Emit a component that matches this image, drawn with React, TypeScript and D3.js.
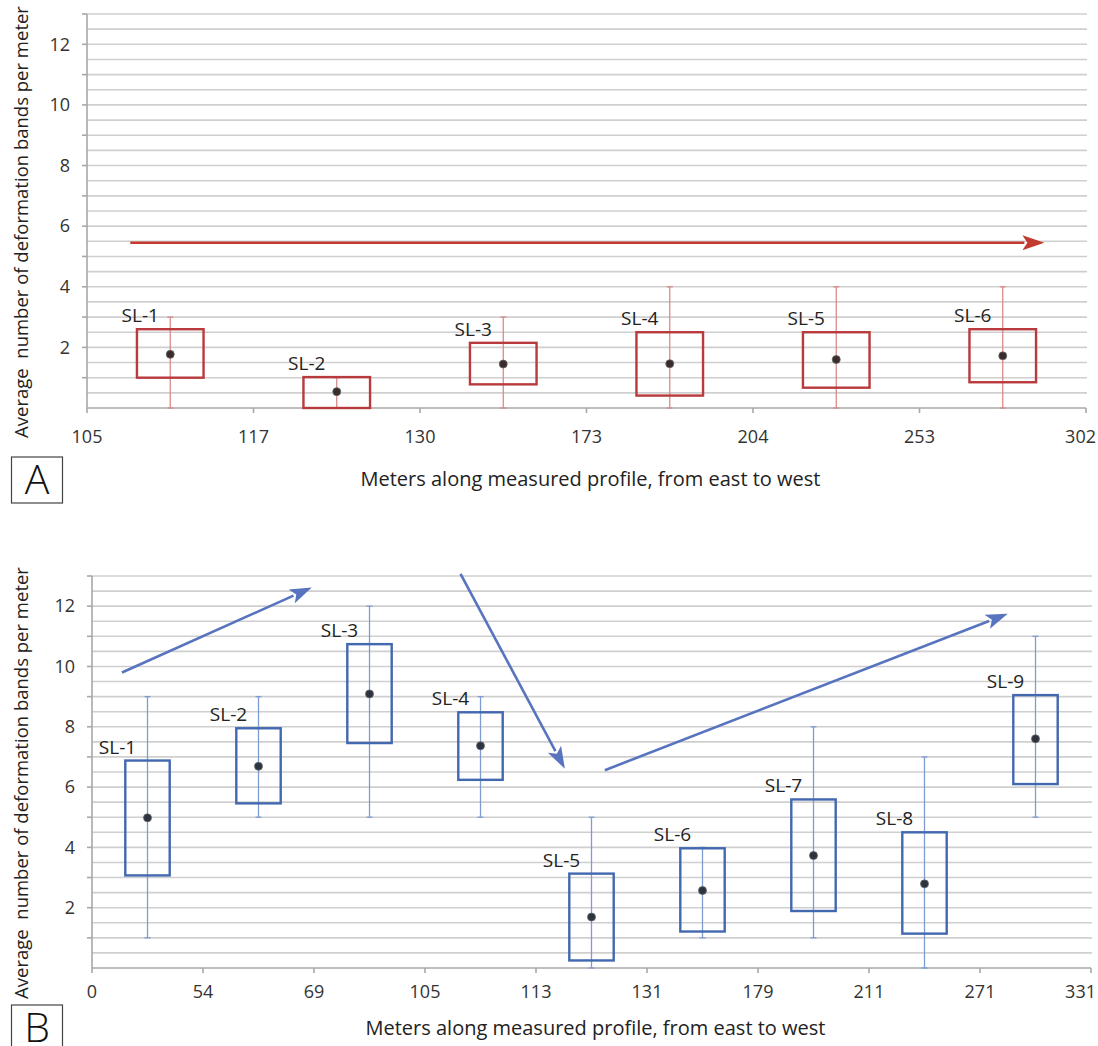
import React, { useRef, useEffect } from "react";
import * as d3 from "d3";

const W = 1098;
const H = 1046;
const FONT = "'Open Sans', 'Noto Sans', sans-serif";

// panel A (red)
const aTicks = ["105", "117", "130", "173", "204", "253", "302"];
const aNames = ["SL-1", "SL-2", "SL-3", "SL-4", "SL-5", "SL-6"];
const aMin = [0, 0, 0, 0, 0, 0];
const aMax = [3, 1, 3, 4, 4, 4];
const aQ1 = [1.0, 0, 0.78, 0.41, 0.67, 0.85];
const aQ3 = [2.6, 1.02, 2.15, 2.5, 2.5, 2.6];
const aMean = [1.77, 0.54, 1.45, 1.46, 1.6, 1.72];
// arrows in axis units: x in category widths, y in bands per meter
const aArrows = [{ x0: 0.26, y0: 5.45, x1: 5.75, y1: 5.45 }];

// panel B (blue)
const bTicks = ["0", "54", "69", "105", "113", "131", "179", "211", "271", "331"];
const bNames = ["SL-1", "SL-2", "SL-3", "SL-4", "SL-5", "SL-6", "SL-7", "SL-8", "SL-9"];
const bMin = [1, 5, 5, 5, 0, 1, 1, 0, 5];
const bMax = [9, 9, 12, 9, 5, 4, 8, 7, 11];
const bQ1 = [3.07, 5.46, 7.46, 6.24, 0.25, 1.21, 1.89, 1.14, 6.1];
const bQ3 = [6.88, 7.95, 10.74, 8.48, 3.13, 3.97, 5.59, 4.5, 9.05];
const bMean = [4.98, 6.69, 9.09, 7.37, 1.69, 2.57, 3.73, 2.79, 7.6];
const bArrows = [
  { x0: 0.27, y0: 9.8, x1: 1.98, y1: 12.62 },
  { x0: 3.32, y0: 13.07, x1: 4.26, y1: 6.61 },
  { x0: 4.62, y0: 6.56, x1: 8.25, y1: 11.75 },
];

const xTitle = "Meters along measured profile, from east to west";
const yTitle = "Average  number of deformation bands per meter";

function drawPanel(svg, p) {
  const n = p.names.length;
  const x = d3.scaleBand().domain(p.names).range([p.left, p.right]).paddingInner(0).paddingOuter(0);
  const xl = d3.scaleLinear().domain([0, n]).range([p.left, p.right]);
  const xt = d3.scalePoint().domain(p.ticks).range([p.left, p.right]);
  const y = d3.scaleLinear().domain([0, 13]).range([p.bottom, p.top]);
  const g = svg.append("g");

  // grid every half unit
  g.selectAll("line.grid")
    .data(d3.range(0.5, 13.01, 0.5))
    .join("line")
    .attr("x1", p.left).attr("x2", p.right + 1)
    .attr("y1", (d) => y(d)).attr("y2", (d) => y(d))
    .attr("stroke", "#cfcfcf").attr("stroke-width", 1.6);

  // y axis
  g.append("line")
    .attr("x1", p.left).attr("x2", p.left)
    .attr("y1", y(13)).attr("y2", y(0))
    .attr("stroke", "#a8a8a8").attr("stroke-width", 1.6);
  g.selectAll("line.yt")
    .data(d3.range(1, 14))
    .join("line")
    .attr("x1", p.left - 5).attr("x2", p.left)
    .attr("y1", (d) => y(d)).attr("y2", (d) => y(d))
    .attr("stroke", "#a8a8a8").attr("stroke-width", 1.6);
  g.selectAll("text.yl")
    .data([2, 4, 6, 8, 10, 12])
    .join("text")
    .attr("x", p.left - 17).attr("y", (d) => y(d))
    .attr("dy", "0.35em")
    .attr("text-anchor", "end")
    .attr("font-family", FONT).attr("font-size", 18).attr("fill", "#333")
    .text((d) => d);

  // x axis
  g.append("line")
    .attr("x1", p.left).attr("x2", p.right)
    .attr("y1", y(0)).attr("y2", y(0))
    .attr("stroke", "#a8a8a8").attr("stroke-width", 1.6);
  g.selectAll("line.xt")
    .data(p.ticks)
    .join("line")
    .attr("x1", (d) => xt(d)).attr("x2", (d) => xt(d))
    .attr("y1", y(0)).attr("y2", y(0) + 5)
    .attr("stroke", "#a8a8a8").attr("stroke-width", 1.6);
  const last = p.ticks[p.ticks.length - 1];
  g.selectAll("text.xl")
    .data(p.ticks)
    .join("text")
    .attr("x", (d) => (d === last ? W - 2 : xt(d)))
    .attr("y", y(0) + p.tickGap)
    .attr("text-anchor", (d) => (d === last ? "end" : "middle"))
    .attr("font-family", FONT).attr("font-size", 18).attr("fill", "#333")
    .text((d) => d);

  // boxes
  const bw = x.bandwidth() * 0.4;
  p.names.forEach((name, i) => {
    const cx = x(name) + x.bandwidth() / 2;
    const bx = g.append("g");
    bx.append("line")
      .attr("x1", cx).attr("x2", cx)
      .attr("y1", y(p.min[i])).attr("y2", y(p.max[i]))
      .attr("stroke", p.whisker).attr("stroke-width", 1.3);
    [p.min[i], p.max[i]].forEach((v) => {
      bx.append("line")
        .attr("x1", cx - 3).attr("x2", cx + 3)
        .attr("y1", y(v)).attr("y2", y(v))
        .attr("stroke", p.whisker).attr("stroke-width", 1.3);
    });
    bx.append("rect")
      .attr("x", cx - bw / 2).attr("y", y(p.q3[i]))
      .attr("width", bw).attr("height", y(p.q1[i]) - y(p.q3[i]))
      .attr("fill", "none")
      .attr("stroke", p.color).attr("stroke-width", 2.4);
    bx.append("circle")
      .attr("cx", cx).attr("cy", y(p.mean[i])).attr("r", 4)
      .attr("fill", p.dot).attr("stroke", "#666").attr("stroke-width", 0.8);
    bx.append("text")
      .attr("x", cx - 30).attr("y", y(p.q3[i]) - 7)
      .attr("text-anchor", "middle")
      .attr("font-family", FONT).attr("font-size", 19).attr("fill", "#222")
      .text(name);
  });

  // trend arrows
  p.arrows.forEach((a) => {
    const x0 = xl(a.x0), y0 = y(a.y0), x1 = xl(a.x1), y1 = y(a.y1);
    const len = Math.hypot(x1 - x0, y1 - y0);
    const ux = (x1 - x0) / len, uy = (y1 - y0) / len;
    const L = 22, hw = 7.5;
    const bxp = x1 - ux * L, byp = y1 - uy * L;
    g.append("line")
      .attr("x1", x0).attr("y1", y0).attr("x2", bxp + ux * 2).attr("y2", byp + uy * 2)
      .attr("stroke", p.arrow).attr("stroke-width", 2.6);
    g.append("path")
      .attr("d", d3.line()([
        [x1, y1],
        [bxp - uy * hw, byp + ux * hw],
        [bxp + ux * 5, byp + uy * 5],
        [bxp + uy * hw, byp - ux * hw],
      ]) + "Z")
      .attr("fill", p.arrow);
  });

  // titles
  g.append("text")
    .attr("x", (p.left + p.right) / 2 + 4).attr("y", p.titleY)
    .attr("text-anchor", "middle")
    .attr("font-family", FONT).attr("font-size", 20).attr("fill", "#222")
    .text(xTitle);
  const cy = (p.top + p.bottom) / 2 + 11;
  g.append("text")
    .attr("transform", `translate(28,${cy}) rotate(-90)`)
    .attr("text-anchor", "middle")
    .attr("font-family", FONT).attr("font-size", 18.5).attr("fill", "#222")
    .attr("xml:space", "preserve")
    .style("white-space", "pre")
    .text(yTitle);

  // panel letter
  g.append("rect")
    .attr("x", 11.5).attr("y", p.letterY)
    .attr("width", 51).attr("height", 46)
    .attr("fill", "#fff").attr("stroke", "#444").attr("stroke-width", 1.2);
  g.append("text")
    .attr("x", 37).attr("y", p.letterY + 37)
    .attr("text-anchor", "middle")
    .attr("font-family", FONT).attr("font-size", 41).attr("font-weight", 300).attr("fill", "#111")
    .text(p.letter);
}

export default function App() {
  const svgRef = useRef(null);
  useEffect(() => {
    const svg = d3.select(svgRef.current);
    svg.selectChildren().remove();
    svg.append("rect").attr("width", W).attr("height", H).attr("fill", "#fff");
    drawPanel(svg, {
      names: aNames, ticks: aTicks, min: aMin, max: aMax, q1: aQ1, q3: aQ3, mean: aMean,
      arrows: aArrows,
      left: 87, right: 1086, top: 14, bottom: 408,
      tickGap: 35, titleY: 486, letterY: 457, letter: "A",
      color: "#b83a3c", whisker: "#d98a8a", dot: "#3a2c2c", arrow: "#c33a2e",
    });
    drawPanel(svg, {
      names: bNames, ticks: bTicks, min: bMin, max: bMax, q1: bQ1, q3: bQ3, mean: bMean,
      arrows: bArrows,
      left: 92, right: 1091, top: 576, bottom: 968,
      tickGap: 30, titleY: 1035, letterY: 1005, letter: "B",
      color: "#4268b0", whisker: "#7d9cd2", dot: "#2c3440", arrow: "#5874bf",
    });
  }, []);
  return (
    <div style={{ position: "absolute", left: 0, top: 0 }}>
      <svg ref={svgRef} width={W} height={H} style={{ display: "block" }}></svg>
    </div>
  );
}
